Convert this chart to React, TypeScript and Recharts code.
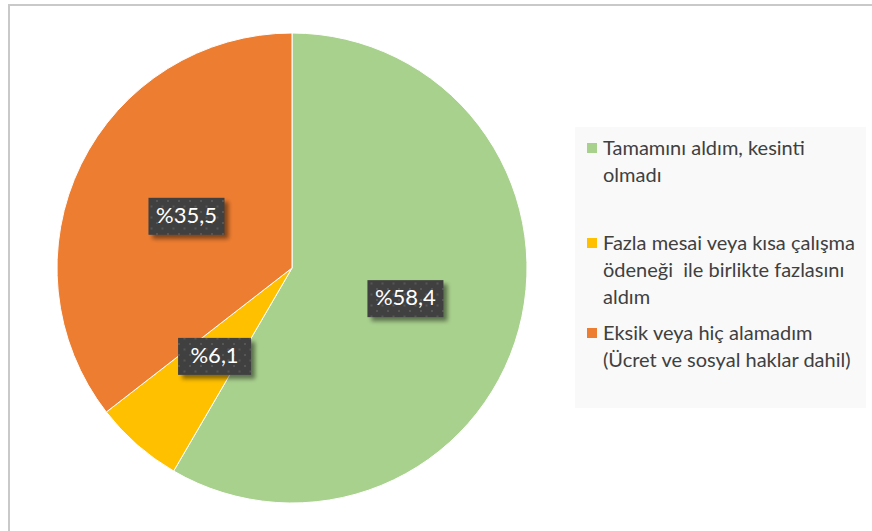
import { PieChart, Pie, Cell, Legend } from 'recharts'

// dilim adları, değerleri ve etiketleri
const categories = [
  'Tamamını aldım, kesinti olmadı',
  'Fazla mesai veya kısa çalışma ödeneği  ile birlikte fazlasını aldım',
  'Eksik veya hiç alamadım (Ücret ve sosyal haklar dahil)',
]
const values = [58.4, 6.1, 35.5]
const valueLabels = ['%58,4', '%6,1', '%35,5']
// legend satır kırılımları (görseldeki gibi)
const legendLines = [
  ['Tamamını aldım, kesinti', 'olmadı'],
  ['Fazla mesai veya kısa çalışma', 'ödeneği  ile birlikte fazlasını', 'aldım'],
  ['Eksik veya hiç alamadım', '(Ücret ve sosyal haklar dahil)'],
]
const colors = ['#A9D18E', '#FFC000', '#ED7D31']

const data = categories.map((name, i) => ({ name, value: values[i], label: valueLabels[i] }))

const RAD = Math.PI / 180

const renderLabel = (props: any) => {
  const { cx, cy, midAngle, outerRadius, index } = props
  const r = outerRadius * 0.5
  const x = cx + r * Math.cos(-midAngle * RAD)
  const y = cy + r * Math.sin(-midAngle * RAD)
  const text = valueLabels[index]
  const w = text.length > 4 ? 76 : 73
  const h = 37
  return (
    <g>
      <rect x={x - w / 2 + 4} y={y - h / 2 + 4} width={w} height={h} fill="#000" opacity={0.45} filter="url(#lblShadow)" />
      <rect x={x - w / 2} y={y - h / 2} width={w} height={h} fill="url(#dots)" />
      <text
        x={x}
        y={y + 1}
        textAnchor="middle"
        dominantBaseline="middle"
        fill="#ffffff"
        fontSize={22}
        fontFamily="Lato, 'Open Sans', sans-serif"
      >
        {text}
      </text>
    </g>
  )
}

const LegendContent = () => (
  <div
    style={{
      width: 291,
      height: 281,
      background: '#f9f9f9',
      position: 'relative',
      fontFamily: "Lato, 'Open Sans', sans-serif",
      fontSize: 20,
      color: '#404040',
    }}
  >
    {legendLines.map((lines, i) => (
      <div
        key={i}
        style={{ position: 'absolute', left: 12, top: [7, 102, 192][i], lineHeight: '27px' }}
      >
        <span
          style={{
            position: 'absolute',
            left: 0,
            top: 9,
            width: 10,
            height: 10,
            background: colors[i],
          }}
        />
        <div style={{ marginLeft: 16, whiteSpace: 'pre' }}>
          {lines.map((l, j) => (
            <div key={j}>{l}</div>
          ))}
        </div>
      </div>
    ))}
  </div>
)

export default function App() {
  return (
    <div style={{ position: 'absolute', left: 0, top: 0, width: 872, height: 531, background: '#fff', overflow: 'hidden' }}>
      <div
        style={{
          position: 'absolute',
          left: 8,
          top: 4,
          width: 864,
          height: 527,
          borderTop: '2px solid #c9c9c9',
          borderLeft: '2px solid #c9c9c9',
          boxSizing: 'border-box',
        }}
      />
      <PieChart
        width={872}
        height={531}
        margin={{ top: 0, right: 0, bottom: 0, left: 0 }}
        style={{ position: 'absolute', left: 0, top: 0 }}
      >
        <defs>
          <pattern id="dots" width="11" height="11" patternUnits="userSpaceOnUse">
            <rect width="11" height="11" fill="#404040" />
            <rect x="2" y="2" width="2" height="2" fill="#565656" />
            <rect x="7.5" y="7.5" width="2" height="2" fill="#565656" />
          </pattern>
          <filter id="lblShadow" x="-20%" y="-30%" width="140%" height="160%">
            <feGaussianBlur stdDeviation="2" />
          </filter>
        </defs>
        <Pie
          data={data}
          dataKey="value"
          nameKey="name"
          cx={292}
          cy={268}
          outerRadius={235}
          startAngle={90}
          endAngle={-270}
          stroke="#ffffff"
          strokeWidth={1}
          label={renderLabel}
          labelLine={false}
          isAnimationActive={false}
        >
          {data.map((d, i) => (
            <Cell key={d.name} fill={colors[i]} />
          ))}
        </Pie>
        <Legend
          content={<LegendContent />}
          wrapperStyle={{ position: 'absolute', left: 575, top: 127, width: 291, height: 281 }}
        />
      </PieChart>
    </div>
  )
}
